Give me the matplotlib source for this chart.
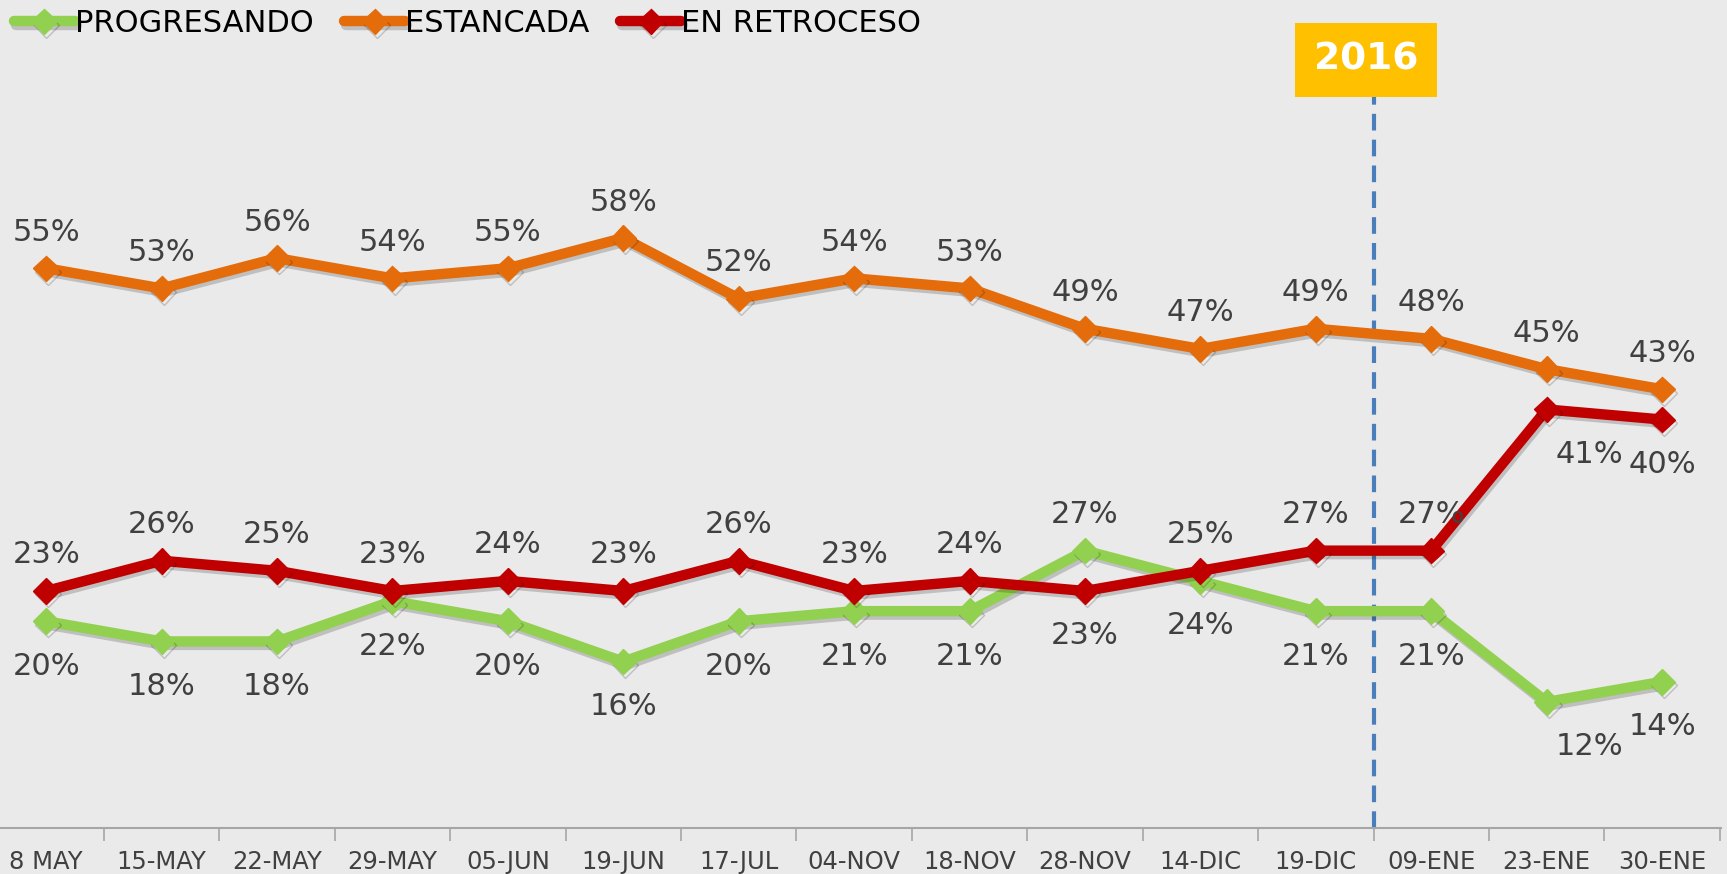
import matplotlib

matplotlib.use("Agg")

import matplotlib.pyplot as plt  # noqa: E402
import matplotlib.patheffects as pe  # noqa: E402

fechas = ["8 MAY", "15-MAY", "22-MAY", "29-MAY", "05-JUN", "19-JUN", "17-JUL", "04-NOV",
          "18-NOV", "28-NOV", "14-DIC", "19-DIC", "09-ENE", "23-ENE", "30-ENE"]
progresando = [20, 18, 18, 22, 20, 16, 20, 21, 21, 27, 24, 21, 21, 12, 14]
estancada = [55, 53, 56, 54, 55, 58, 52, 54, 53, 49, 47, 49, 48, 45, 43]
retroceso = [23, 26, 25, 23, 24, 23, 26, 23, 24, 23, 25, 27, 27, 41, 40]

# label above (+1) or below (-1) the point
pos_progresando = [-1, -1, -1, -1, -1, -1, -1, -1, -1, 1, -1, -1, -1, -1, -1]
pos_retroceso = [1, 1, 1, 1, 1, 1, 1, 1, 1, -1, 1, 1, 1, -1, -1]

BG = "#eaeaea"
VERDE = "#92d050"
NARANJA = "#e46c0a"
ROJO = "#c00000"
TEXTO = "#404040"

fig = plt.figure(figsize=(17.27, 8.74), dpi=100, facecolor=BG)
ax = fig.add_axes([0.0, 1 - 828 / 874, 1721 / 1727, 828 / 874])
ax.set_facecolor(BG)

x = list(range(len(fechas)))
shadow = [pe.SimpleLineShadow(offset=(1.5, -2.5), alpha=0.18, shadow_color="black"), pe.Normal()]

series = [
    ("PROGRESANDO", progresando, VERDE, pos_progresando),
    ("ESTANCADA", estancada, NARANJA, [1] * len(fechas)),
    ("EN RETROCESO", retroceso, ROJO, pos_retroceso),
]

for nombre, valores, color, posiciones in series:
    ax.plot(x, valores, color=color, linewidth=7.5, marker="D", markersize=13,
            label=nombre, solid_joinstyle="round", solid_capstyle="round",
            path_effects=shadow, zorder=3)
    for xi, v, p in zip(x, valores, posiciones):
        dx = 0
        if xi == 13 and nombre != "ESTANCADA":
            dx = 0.37
        dy = 36 if p > 0 else -45
        ax.annotate(f"{v}%", (xi, v), xytext=(dx * 115, dy), textcoords="offset pixels",
                    ha="center", va="center", fontsize=22, color=TEXTO, zorder=4)

# 2016 marker
ax.axvline(11.5, ymin=0, ymax=(828 - 92) / 828, color="#4a7ebb", linewidth=3,
           linestyle=(0, (4, 2.2)), zorder=2)
fig.text(1366 / 1727, 1 - 60 / 874, "2016", ha="center", va="center", fontsize=27,
         fontweight="bold", color="white",
         bbox=dict(boxstyle="square,pad=0.5", facecolor="#ffc000", edgecolor="none"))

ax.set_xlim(-0.40, 14.51)
ax.set_ylim(-0.5, 81.6)

ax.set_xticks(x)
ax.set_xticklabels(fechas, fontsize=17.5, color=TEXTO)
ax.set_xticks([i + 0.5 for i in range(len(fechas))], minor=True)
ax.tick_params(axis="x", which="major", length=0, pad=16)
ax.tick_params(axis="x", which="minor", length=9, color="#a6a6a6", width=1.2, direction="out")
ax.set_yticks([])
for side in ["top", "right", "left"]:
    ax.spines[side].set_visible(False)
ax.spines["bottom"].set_color("#a6a6a6")
ax.spines["bottom"].set_linewidth(1.5)

fig.legend(loc="upper left", bbox_to_anchor=(-0.008, 1.021), ncol=3, frameon=False,
           fontsize=22, handlelength=2.0, handletextpad=0.0, columnspacing=1.0)

fig.savefig("out.png", dpi=100, facecolor=BG)
